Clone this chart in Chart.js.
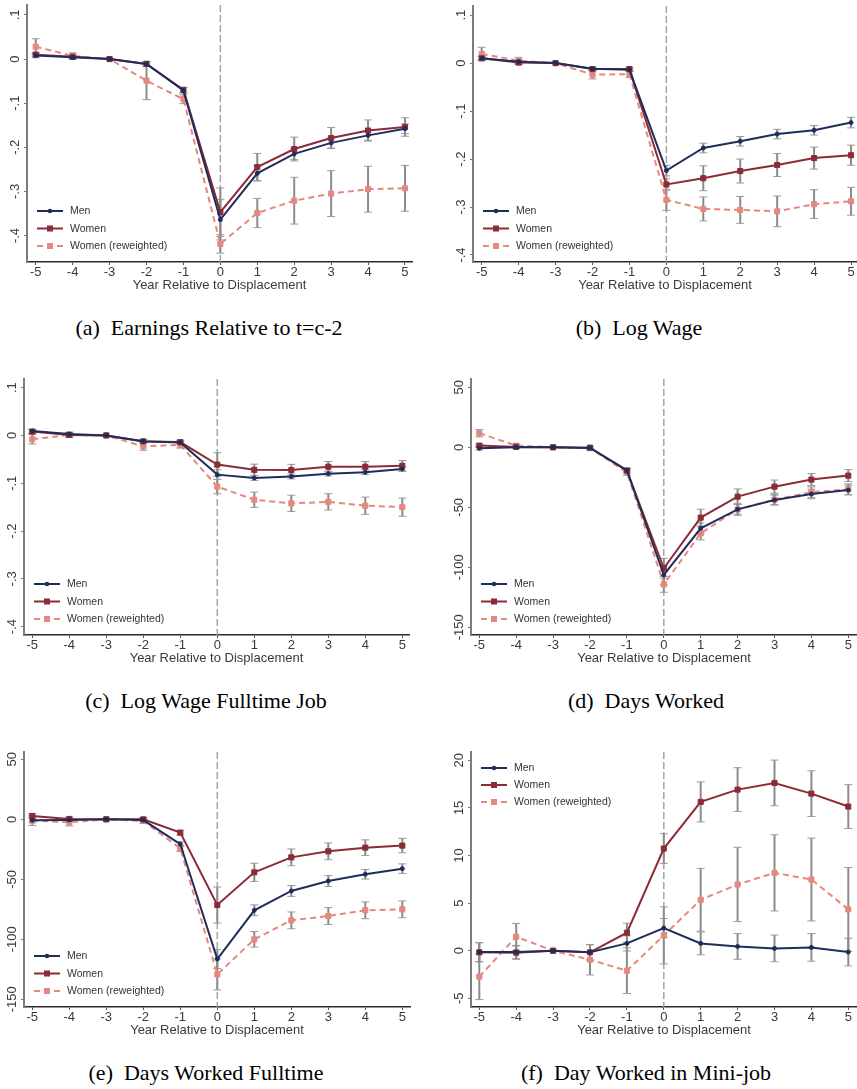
<!DOCTYPE html>
<html lang="en">
<head>
    <meta charset="UTF-8">
    <title>Displacement effects by gender</title>
    <script src="https://cdn.jsdelivr.net/npm/chart.js@4.4.0/dist/chart.umd.min.js"></script>
    <style>
        body { margin: 0; background: #fff; overflow: hidden; }
        #wrap { position: relative; width: 857px; height: 1089px; overflow: hidden; }
        #wrap canvas { position: absolute; }
        .cap { position: absolute; width: 400px; margin-left: -200px; text-align: center;
               font-family: "Liberation Serif", "Times New Roman", serif; font-size: 22px;
               line-height: 26px; color: #000; white-space: pre; }
    </style>
</head>
<body>
    <div id="wrap"></div>
    <script>
        // event time
        const years = [-5, -4, -3, -2, -1, 0, 1, 2, 3, 4, 5];
        const seriesNames = ['Men', 'Women', 'Women (reweighted)'];

        // (a) earnings relative to t=c-2
        const earnMen     = [0.008, 0.004, 0, -0.011, -0.071, -0.364, -0.259, -0.215, -0.190, -0.173, -0.158];
        const earnWomen   = [0.010, 0.005, 0, -0.011, -0.070, -0.347, -0.245, -0.204, -0.179, -0.162, -0.154];
        const earnWomenRw = [0.028, 0.007, 0, -0.049, -0.091, -0.419, -0.349, -0.321, -0.305, -0.295, -0.293];
        const earnMenCi     = [0.005, 0.004, 0, 0.005, 0.006, 0.046, 0.017, 0.013, 0.012, 0.011, 0.011];
        const earnWomenCi   = [0.005, 0.004, 0, 0.006, 0.006, 0.055, 0.031, 0.027, 0.024, 0.024, 0.021];
        const earnWomenRwCi = [0.018, 0.007, 0, 0.043, 0.010, 0.021, 0.033, 0.053, 0.052, 0.052, 0.052];

        // (b) log wage
        const wageMen     = [0.010, 0.003, 0, -0.012, -0.014, -0.224, -0.177, -0.163, -0.148, -0.140, -0.124];
        const wageWomen   = [0.010, 0.001, 0, -0.0125, -0.0125, -0.253, -0.240, -0.225, -0.2125, -0.198, -0.192];
        const wageWomenRw = [0.019, 0.005, 0, -0.024, -0.023, -0.285, -0.304, -0.306, -0.309, -0.294, -0.288];
        const wageMenCi     = [0.004, 0.004, 0, 0.003, 0.003, 0.011, 0.010, 0.010, 0.010, 0.010, 0.011];
        const wageWomenCi   = [0.004, 0.004, 0, 0.004, 0.004, 0.012, 0.026, 0.025, 0.024, 0.023, 0.021];
        const wageWomenRwCi = [0.014, 0.007, 0, 0.009, 0.007, 0.022, 0.025, 0.028, 0.032, 0.030, 0.029];

        // (c) log wage fulltime job
        const ftMen     = [0.009, 0.003, 0, -0.012, -0.015, -0.082, -0.089, -0.086, -0.080, -0.077, -0.070];
        const ftWomen   = [0.008, 0.001, 0, -0.0125, -0.014, -0.061, -0.072, -0.0725, -0.0655, -0.0655, -0.0635];
        const ftWomenRw = [-0.008, 0.001, 0, -0.023, -0.0195, -0.107, -0.1345, -0.142, -0.139, -0.147, -0.150];
        const ftMenCi     = [0.004, 0.004, 0, 0.003, 0.003, 0.010, 0.005, 0.005, 0.005, 0.005, 0.005];
        const ftWomenCi   = [0.004, 0.005, 0, 0.004, 0.004, 0.025, 0.012, 0.012, 0.011, 0.011, 0.011];
        const ftWomenRwCi = [0.010, 0.005, 0, 0.008, 0.007, 0.015, 0.016, 0.017, 0.017, 0.018, 0.019];

        // (d) days worked
        const daysMen     = [-0.8, 0, 0, -0.5, -19.0, -106.4, -67.5, -51.7, -43.9, -38.9, -35.6];
        const daysWomen   = [1.4, 0.3, 0, -0.3, -19.4, -100.8, -58.6, -41.1, -32.8, -26.9, -23.6];
        const daysWomenRw = [11.7, 1.4, 0, -0.8, -20.8, -114.2, -71.7, -51.7, -43.6, -37.5, -35.0];
        const daysMenCi     = [1.5, 1.0, 0, 1.0, 1.5, 8.0, 4.5, 4.0, 4.0, 4.0, 4.0];
        const daysWomenCi   = [1.5, 1.0, 0, 1.0, 2.0, 8.3, 7.0, 6.4, 5.5, 5.0, 5.0];
        const daysWomenRwCi = [3.0, 1.5, 0, 1.5, 2.5, 6.6, 5.5, 5.0, 4.5, 4.5, 4.5];

        // (e) days worked fulltime
        const dftMen     = [-0.8, -0.5, 0, -0.6, -20.6, -116.4, -75.8, -59.7, -51.4, -45.8, -41.1];
        const dftWomen   = [2.8, 0.3, 0, 0, -11.1, -71.4, -44.2, -31.7, -26.7, -23.6, -21.9];
        const dftWomenRw = [-1.1, -2.5, 0, -1.4, -24.2, -129.2, -100.0, -84.2, -80.6, -75.8, -75.0];
        const dftMenCi     = [2.0, 1.5, 0, 1.0, 2.0, 8.0, 4.5, 4.5, 4.5, 4.0, 4.0];
        const dftWomenCi   = [2.0, 1.5, 0, 1.5, 2.0, 15.0, 7.6, 7.0, 7.0, 6.5, 6.0];
        const dftWomenRwCi = [4.0, 3.0, 0, 2.0, 2.5, 13.0, 6.5, 7.0, 7.0, 7.0, 7.0];

        // (f) days worked in mini-job
        const miniMen     = [-0.14, -0.14, 0, -0.17, 0.77, 2.38, 0.77, 0.45, 0.24, 0.35, -0.14];
        const miniWomen   = [-0.17, -0.20, 0, -0.17, 1.89, 10.73, 15.63, 16.92, 17.62, 16.50, 15.14];
        const miniWomenRw = [-2.73, 1.47, 0, -0.94, -2.10, 1.61, 5.35, 6.96, 8.18, 7.48, 4.34];
        const miniMenCi     = [1.0, 0.7, 0, 0.8, 0.8, 1.0, 1.2, 1.35, 1.4, 1.45, 1.45];
        const miniWomenCi   = [1.0, 0.7, 0, 0.8, 1.0, 1.56, 2.1, 2.3, 2.4, 2.4, 2.3];
        const miniWomenRwCi = [2.4, 1.4, 0, 1.6, 2.4, 3.0, 3.3, 3.9, 4.0, 4.35, 4.4];

        // y tick values
        const logTicks  = [0.1, 0, -0.1, -0.2, -0.3, -0.4];
        const daysTicks = [50, 0, -50, -100, -150];
        const miniTicks = [20, 15, 10, 5, 0, -5];

        const captions = [
            '(a)  Earnings Relative to t=c-2', '(b)  Log Wage',
            '(c)  Log Wage Fulltime Job', '(d)  Days Worked',
            '(e)  Days Worked Fulltime', '(f)  Day Worked in Mini-job'
        ];
        const xTitle = 'Year Relative to Displacement';

        const colors = ['#1f2d5b', '#8c2b36', '#e5887e'];
        const FONT = '"Liberation Sans", Arial, sans-serif';

        const fmt = v => String(v).replace(/^(-?)0\./, '$1.');

        const panelDeco = {
            id: 'panelDeco',
            beforeDatasetsDraw(chart) {
                const {ctx, chartArea: ca, scales: {x, y}} = chart;
                ctx.save();
                // reference line at displacement year
                const x0 = x.getPixelForValue(0);
                ctx.strokeStyle = '#a5a5a5';
                ctx.lineWidth = 1.5;
                ctx.setLineDash([7, 3]);
                ctx.beginPath();
                ctx.moveTo(x0, ca.top);
                ctx.lineTo(x0, ca.bottom);
                ctx.stroke();
                ctx.setLineDash([]);
                // confidence intervals
                chart.data.datasets.forEach(ds => {
                    ds.data.forEach((pt, i) => {
                        const e = ds.ci[i];
                        if (!e) return;
                        const px = x.getPixelForValue(pt.x);
                        const hi = y.getPixelForValue(pt.y + e);
                        const lo = y.getPixelForValue(pt.y - e);
                        ctx.strokeStyle = '#8b8b8b';
                        ctx.lineWidth = 2;
                        ctx.beginPath();
                        ctx.moveTo(px, hi);
                        ctx.lineTo(px, lo);
                        ctx.stroke();
                        ctx.strokeStyle = '#9a9a9a';
                        ctx.lineWidth = 1;
                        ctx.beginPath();
                        ctx.moveTo(px - 4, hi); ctx.lineTo(px + 4, hi);
                        ctx.moveTo(px - 4, lo); ctx.lineTo(px + 4, lo);
                        ctx.stroke();
                    });
                });
                ctx.restore();
            },
            afterDraw(chart, args, opts) {
                const {ctx, chartArea: ca, scales: {y}} = chart;
                ctx.save();
                // rotated y tick labels
                ctx.fillStyle = '#3a3a3a';
                ctx.font = '13px ' + FONT;
                ctx.textAlign = 'center';
                ctx.textBaseline = 'middle';
                opts.ticks.forEach(v => {
                    ctx.save();
                    ctx.translate(ca.left - 12, y.getPixelForValue(v));
                    ctx.rotate(-Math.PI / 2);
                    ctx.fillText(fmt(v), 0, 0);
                    ctx.restore();
                });
                // legend inside plot
                const lx = ca.left + 10;
                const rows = opts.legendTop
                    ? [ca.top + 16, ca.top + 33, ca.top + 50]
                    : [ca.bottom - 51, ca.bottom - 33.5, ca.bottom - 16];
                chart.data.datasets.forEach((ds, i) => {
                    const ry = rows[i];
                    ctx.strokeStyle = ds.borderColor;
                    ctx.lineWidth = ds.borderWidth;
                    ctx.setLineDash(ds.borderDash || []);
                    ctx.beginPath();
                    ctx.moveTo(lx, ry);
                    ctx.lineTo(lx + 26, ry);
                    ctx.stroke();
                    ctx.setLineDash([]);
                    ctx.fillStyle = ds.borderColor;
                    if (ds.pointStyle === 'circle') {
                        ctx.beginPath();
                        ctx.arc(lx + 13, ry, 2.3, 0, Math.PI * 2);
                        ctx.fill();
                    } else {
                        ctx.fillRect(lx + 13 - 3, ry - 3, 6, 6);
                    }
                    ctx.fillStyle = '#333';
                    ctx.font = '10.5px ' + FONT;
                    ctx.textAlign = 'left';
                    ctx.fillText(ds.label, lx + 33, ry + 0.5);
                });
                ctx.restore();
            }
        };

        function series(i, vals, ci) {
            const base = {
                label: seriesNames[i],
                data: years.map((yr, k) => ({x: yr, y: vals[k]})),
                ci: ci,
                borderColor: colors[i],
                backgroundColor: colors[i],
                borderWidth: 2,
                tension: 0,
                pointBorderWidth: 1,
                pointBorderColor: colors[i],
                pointBackgroundColor: colors[i]
            };
            if (i === 0) {
                base.pointStyle = 'circle';
                base.pointRadius = 2;
            } else {
                base.pointStyle = 'rect';
                base.pointRadius = 3.6;
            }
            if (i === 2) base.borderDash = [6, 4];
            return base;
        }

        const wrap = document.getElementById('wrap');

        function makePanel(p, sets, yTicks, caption) {
            const cv = document.createElement('canvas');
            cv.width = p.R - p.L + 36;
            cv.height = p.B - p.T + 42;
            cv.style.left = (p.L - 30) + 'px';
            cv.style.top = (p.T - 5) + 'px';
            wrap.appendChild(cv);

            new Chart(cv, {
                type: 'line',
                data: {datasets: sets},
                options: {
                    responsive: false,
                    animation: false,
                    layout: {padding: {left: 0, top: 5, right: 6, bottom: 6}},
                    plugins: {
                        legend: {display: false},
                        tooltip: {enabled: false},
                        panelDeco: {ticks: yTicks, legendTop: !!p.legendTop}
                    },
                    scales: {
                        x: {
                            type: 'linear',
                            min: p.xMin,
                            max: p.xMax,
                            afterBuildTicks: s => { s.ticks = years.map(v => ({value: v})); },
                            afterFit: s => { s.height = 31; },
                            grid: {display: true, drawOnChartArea: false, drawTicks: true, tickLength: 3, color: '#555'},
                            border: {display: true, color: '#2b2b2b', width: 1.5},
                            ticks: {padding: 0, color: '#3a3a3a', font: {family: FONT, size: 13}, maxRotation: 0},
                            title: {display: true, text: xTitle, color: '#3a3a3a', padding: 0, font: {family: FONT, size: 13}}
                        },
                        y: {
                            type: 'linear',
                            min: p.yMin,
                            max: p.yMax,
                            afterBuildTicks: s => { s.ticks = yTicks.map(v => ({value: v})); },
                            afterFit: s => { s.width = 30; },
                            grid: {display: true, drawOnChartArea: false, drawTicks: true, tickLength: 3, color: '#777'},
                            border: {display: true, color: '#7d7d7d', width: 2},
                            ticks: {display: false}
                        }
                    }
                },
                plugins: [panelDeco]
            });

            const cap = document.createElement('div');
            cap.className = 'cap';
            cap.textContent = caption;
            cap.style.left = p.capX + 'px';
            cap.style.top = (p.capY - 13) + 'px';
            wrap.appendChild(cap);
        }

        makePanel({L: 27, T: 5, R: 412, B: 262, xMin: -5.236, xMax: 5.19, yMin: -0.46, yMax: 0.1225, capX: 209, capY: 328},
            [series(0, earnMen, earnMenCi), series(1, earnWomen, earnWomenCi), series(2, earnWomenRw, earnWomenRwCi)],
            logTicks, captions[0]);
        makePanel({L: 473, T: 6, R: 857, B: 262, xMin: -5.236, xMax: 5.162, yMin: -0.4146, yMax: 0.119, capX: 639, capY: 328},
            [series(0, wageMen, wageMenCi), series(1, wageWomen, wageWomenCi), series(2, wageWomenRw, wageWomenRwCi)],
            logTicks, captions[1]);
        makePanel({L: 24, T: 379, R: 409, B: 635, xMin: -5.224, xMax: 5.181, yMin: -0.4174, yMax: 0.118, capX: 206, capY: 701},
            [series(0, ftMen, ftMenCi), series(1, ftWomen, ftWomenCi), series(2, ftWomenRw, ftWomenRwCi)],
            logTicks, captions[2]);
        makePanel({L: 471, T: 379, R: 857, B: 635, xMin: -5.225, xMax: 5.236, yMin: -156.4, yMax: 56.9, capX: 646, capY: 701},
            [series(0, daysMen, daysMenCi), series(1, daysWomen, daysWomenCi), series(2, daysWomenRw, daysWomenRwCi)],
            daysTicks, captions[3]);
        makePanel({L: 24, T: 752, R: 410, B: 1007, xMin: -5.224, xMax: 5.208, yMin: -156.4, yMax: 56.1, capX: 206, capY: 1073},
            [series(0, dftMen, dftMenCi), series(1, dftWomen, dftWomenCi), series(2, dftWomenRw, dftWomenRwCi)],
            daysTicks, captions[4]);
        makePanel({L: 471, T: 752, R: 857, B: 1007, xMin: -5.225, xMax: 5.236, yMin: -5.91, yMax: 20.87, capX: 646, capY: 1073, legendTop: true},
            [series(0, miniMen, miniMenCi), series(1, miniWomen, miniWomenCi), series(2, miniWomenRw, miniWomenRwCi)],
            miniTicks, captions[5]);
    </script>
</body>
</html>
